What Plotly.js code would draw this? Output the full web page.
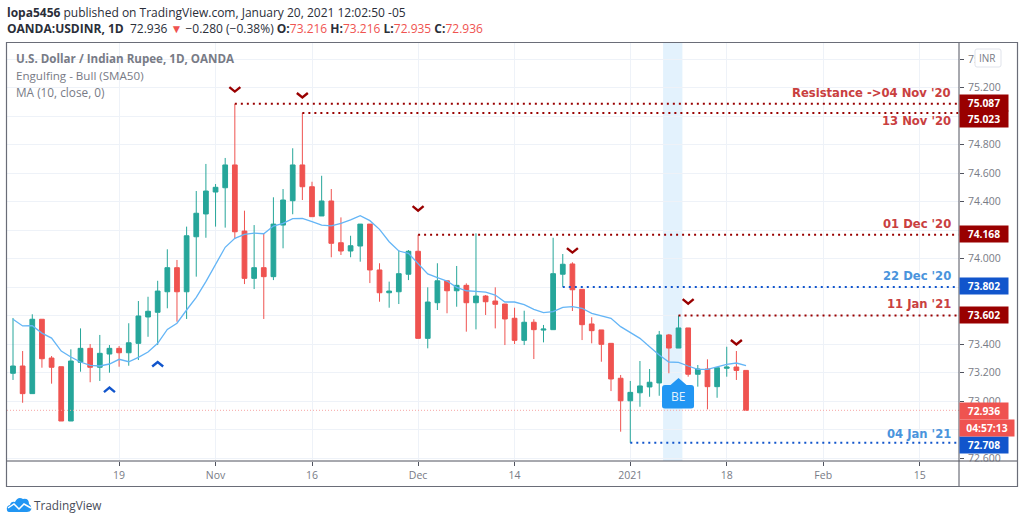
<!DOCTYPE html>
<html><head><meta charset="utf-8">
<script src="https://cdn.plot.ly/plotly-3.0.1.min.js"></script>
<style>html,body{margin:0;padding:0;background:#fff}#c{width:1024px;height:523px}</style></head>
<body><div id="c"></div>
<script>
// daily candles, one per trading day, indexed from 2 Oct 2020 (0) to 20 Jan 2021 (76)
const opens=[73.196,73.247,73.053,73.575,73.303,73.242,72.861,73.273,73.371,73.238,73.331,73.371,73.340,73.406,73.591,73.624,73.768,73.937,73.768,74.154,74.314,74.468,74.498,74.658,74.194,73.862,73.937,73.874,74.236,74.407,74.658,74.505,74.300,74.405,74.112,74.054,74.089,74.243,73.921,73.761,73.768,73.891,74.052,73.441,73.691,73.845,73.775,73.813,73.691,73.738,73.703,73.682,73.582,73.427,73.554,73.499,73.502,73.891,73.963,73.785,73.542,73.500,73.406,73.161,73.003,73.059,73.100,73.128,73.465,73.373,73.514,73.189,73.226,73.102,73.231,73.240,73.216];
const highs=[73.584,73.352,73.610,73.575,73.317,73.242,73.364,73.511,73.401,73.465,73.394,73.387,73.547,73.703,73.733,73.845,74.066,73.991,74.225,74.475,74.665,74.524,74.707,75.087,74.337,74.236,74.178,74.431,74.489,74.775,75.023,74.540,74.582,74.489,74.290,74.161,74.243,74.243,73.968,73.839,74.061,74.061,74.168,73.799,73.968,73.845,73.949,73.827,74.178,73.745,73.799,73.682,73.656,73.635,73.575,73.535,74.147,74.033,73.975,73.785,73.589,73.500,73.406,73.184,73.142,73.282,73.226,73.493,73.472,73.602,73.514,73.254,73.294,73.235,73.382,73.352,73.216];
const lows=[73.149,72.989,73.053,73.235,73.123,72.861,72.861,73.207,73.133,73.142,73.200,73.242,73.249,73.289,73.452,73.394,73.652,73.558,73.577,73.874,74.147,74.225,74.218,74.138,73.822,73.787,73.577,73.850,74.073,74.312,74.412,74.295,74.300,74.010,74.026,74.010,73.979,73.829,73.698,73.656,73.682,73.850,73.441,73.371,73.640,73.617,73.663,73.488,73.504,73.605,73.511,73.394,73.401,73.394,73.296,73.413,73.502,73.802,73.633,73.429,73.406,73.277,73.071,72.786,72.708,72.961,73.031,73.038,73.196,73.373,73.172,73.102,72.943,73.024,73.172,73.149,72.936];
const closes=[73.247,73.053,73.575,73.298,73.238,72.861,73.282,73.371,73.238,73.336,73.371,73.340,73.410,73.598,73.631,73.773,73.937,73.768,74.161,74.319,74.475,74.501,74.658,74.189,73.862,73.937,73.874,74.243,74.412,74.658,74.505,74.295,74.405,74.108,74.054,74.091,74.243,73.921,73.761,73.773,73.895,74.052,73.441,73.696,73.845,73.775,73.813,73.691,73.738,73.698,73.680,73.577,73.427,73.554,73.502,73.506,73.895,73.961,73.782,73.537,73.495,73.399,73.156,73.003,73.062,73.107,73.133,73.465,73.373,73.514,73.189,73.226,73.102,73.235,73.240,73.216,72.936];
const ma10=[73.575,73.528,73.530,73.478,73.443,73.352,73.310,73.275,73.252,73.247,73.261,73.294,73.277,73.308,73.345,73.406,73.504,73.547,73.640,73.729,73.839,73.956,74.080,74.143,74.171,74.180,74.175,74.229,74.248,74.281,74.283,74.260,74.236,74.231,74.248,74.272,74.302,74.267,74.206,74.119,74.054,74.038,73.968,73.893,73.867,73.843,73.799,73.775,73.771,73.766,73.745,73.696,73.696,73.677,73.645,73.621,73.628,73.659,73.663,73.652,73.617,73.600,73.582,73.523,73.481,73.441,73.382,73.324,73.275,73.273,73.247,73.224,73.224,73.242,73.259,73.268,73.249];
const xIndex=closes.map((_,i)=>i);
const tickIndex=[11,21,31,42,52,64,74,84,94];
const tickLabels=['19','Nov','16','Dec','14','2021','18','Feb','15'];
const priceTicks=[72.6,72.8,73.0,73.2,73.4,73.6,73.8,74.0,74.2,74.4,74.6,74.8,75.0,75.2,75.4];
const levelNames=["Resistance ->04 Nov '20","13 Nov '20","01 Dec '20","22 Dec '20","11 Jan '21","04 Jan '21"];
const levelPrices=[75.087,75.023,74.168,73.802,73.602,72.708];
const levelStart=[23,30,42,57,69,64];
const sellIdx=[23,30,42,58,70,75];
const sellTip=[75.166,75.124,74.330,74.036,73.678,73.391];
const buyIdx=[10,15];
const buyTip=[73.102,73.282];
const lastPrice=72.936;

const W=952,H=419,L=7,T=42;
const px=x=>(x-L)/W, py=y=>1-(y-T)/H;
const DARK='#990000',BLUE='#1155cc',RED='#ef5350',GREEN='#26a69a',AX='#50535e',TXT='#787b86';
const FONT='"Open Sans", sans-serif';
const LBL='"DejaVu Sans", sans-serif';

const shapes=[
 {type:'rect',layer:'below',xref:'x',yref:'paper',x0:67.4,x1:69.4,y0:0,y1:1,fillcolor:'#e3f2fd',line:{width:0}},
 {type:'line',xref:'paper',yref:'y',x0:px(7),x1:1,y0:lastPrice,y1:lastPrice,line:{color:'#f7a5a3',width:1,dash:'1px,2px'}},
];
levelPrices.forEach((p,i)=>{
 const c=(i===3||i===5)?BLUE:DARK;
 shapes.push({type:'line',xref:'x',yref:'y',x0:levelStart[i],x1:98,y0:p,y1:p,line:{color:c,width:2,dash:'2px,4px'}});
});
// chevrons, anchored on the axes
sellIdx.forEach((k,i)=>shapes.push({type:'path',xref:'x',yref:'y',xsizemode:'pixel',ysizemode:'pixel',xanchor:k,yanchor:sellTip[i],
 path:'M-5.5,5.5 L0,1 L5.5,5.5',line:{color:DARK,width:2.4}}));
buyIdx.forEach((k,i)=>shapes.push({type:'path',xref:'x',yref:'y',xsizemode:'pixel',ysizemode:'pixel',xanchor:k,yanchor:buyTip[i],
 path:'M-5.5,-5.5 L0,-1 L5.5,-5.5',line:{color:BLUE,width:2.4}}));
// BE flag
shapes.push({type:'path',xref:'x',yref:'y',xsizemode:'pixel',ysizemode:'pixel',xanchor:69,yanchor:73.03,
 path:'M-16.5,-9 L-16.5,9 Q-16.5,12 -13.5,12 L-8,12 L0,19 L8,12 L12.5,12 Q15.5,12 15.5,9 L15.5,-9 Q15.5,-11.5 12.5,-11.5 L-13.5,-11.5 Q-16.5,-11.5 -16.5,-9 Z',
 fillcolor:'#2196f3',line:{width:0}});
// cover strip under the price scale, frame, axis lines
shapes.push({type:'rect',xref:'paper',yref:'paper',x0:px(960),x1:px(1017),y0:py(487),y1:py(461.5),fillcolor:'#fff',line:{width:0}});
shapes.push({type:'line',xref:'paper',yref:'paper',x0:px(7),x1:px(1017),y0:py(461),y1:py(461),line:{color:AX,width:1}});
shapes.push({type:'line',xref:'paper',yref:'paper',x0:px(959),x1:px(959),y0:py(42),y1:py(487),line:{color:AX,width:1}});
shapes.push({type:'rect',xref:'paper',yref:'paper',x0:px(6.5),x1:px(1017.5),y0:py(486.5),y1:py(42.5),line:{color:'#6a6d78',width:1.2},fillcolor:'rgba(0,0,0,0)'});
// INR badge
shapes.push({type:'path',xref:'paper',yref:'paper',xsizemode:'pixel',ysizemode:'pixel',xanchor:px(975),yanchor:py(67),
 path:'M0,2 L0,16 Q0,18 2,18 L24,18 Q26,18 26,16 L26,2 Q26,0 24,0 L2,0 Q0,0 0,2 Z',fillcolor:'#fff',line:{color:'#e0e3eb',width:1}});
// logo
shapes.push({type:'path',xref:'paper',yref:'paper',xsizemode:'pixel',ysizemode:'pixel',xanchor:px(7),yanchor:py(512),
 path:'M0,2 Q-1,6 3,7 Q4,11 8,10 Q11,16 16,13 Q22,14 22,8 Q25,6 24,2 Q23,0 20,0 L3,0 Q0,0 0,2 Z',fillcolor:'#2196f3',line:{width:0}});
shapes.push({type:'path',xref:'paper',yref:'paper',xsizemode:'pixel',ysizemode:'pixel',xanchor:px(7),yanchor:py(512),
 path:'M1,4 L7,8 L12,3 L17,8 L24,4',line:{color:'#fff',width:1.5}});

const ann=[];
function txt(x,y,text,opt={}){ann.push(Object.assign({xref:'paper',yref:'paper',x:px(x),y:py(y),text,showarrow:false,xanchor:'left',yanchor:'middle',align:'left',borderpad:0,
 font:{family:FONT,size:12,color:'#131722'}},opt));}
const r=s=>`<span style="color:${RED}">${s}</span>`;
txt(6,12,'<b>lopa5456</b> published on TradingView.com, January 20, 2021 12:02:50 -05',{font:{family:FONT,size:12,color:'#2a2e39'}});
txt(6,28.5,`<b>OANDA:USDINR, 1D</b>  72.936 ${r('▼')} −0.280 (−0.38%) <b>O:</b>${r('73.216')} <b>H:</b>${r('73.216')} <b>L:</b>${r('72.935')} <b>C:</b>${r('72.936')}`,{font:{family:FONT,size:12,color:'#2a2e39'}});
txt(15,59,'<b>U.S. Dollar / Indian Rupee, 1D, OANDA</b>',{font:{family:FONT,size:11.6,color:TXT}});
txt(15,75.5,'Engulfing - Bull (SMA50)',{font:{family:FONT,size:11.6,color:TXT}});
txt(15,92,'MA (10, close, 0)',{font:{family:FONT,size:11.8,color:TXT}});
txt(988,58,'INR',{xanchor:'center',font:{family:FONT,size:10,color:TXT}});
txt(33,505.5,'TradingView',{font:{family:FONT,size:11.8,color:'#4a4e5a'}});
// level captions
const capY=[92.5,121,224,276,304,434];
const capCol=['#c9403f','#c9403f','#c9403f','#4a94dc','#c9403f','#4a94dc'];
levelNames.forEach((n,i)=>txt(952,capY[i],`<b>${n}</b>`,{xanchor:'right',align:'right',font:{family:LBL,size:11.6,color:capCol[i]}}));
// price tags
function tag(y,text,bg,w=48){txt(959,y,`<b>${text}</b>`,{width:w,height:16,align:'center',bgcolor:bg,font:{family:FONT,size:10.3,color:'#fff'}});}
tag(102.7,levelPrices[0].toFixed(3),DARK);
tag(119.4,levelPrices[1].toFixed(3),DARK);
tag(234.2,levelPrices[2].toFixed(3),DARK);
tag(286,levelPrices[3].toFixed(3),BLUE);
tag(314.5,levelPrices[4].toFixed(3),DARK);
tag(444.7,levelPrices[5].toFixed(3),BLUE);
tag(410.8,lastPrice.toFixed(3),RED);
tag(428.3,'04:57:13',RED,54);
ann.push({xref:'x',yref:'y',x:69,y:73.03,text:'BE',showarrow:false,xanchor:'center',yanchor:'middle',xshift:-0.5,font:{family:FONT,size:12,color:'#e3f2fd'}});

const data=[
 {type:'candlestick',x:xIndex,open:opens,high:highs,low:lows,close:closes,hoverinfo:'skip',
  increasing:{line:{color:GREEN,width:1},fillcolor:GREEN},decreasing:{line:{color:RED,width:1},fillcolor:RED},whiskerwidth:0},
 {type:'scatter',mode:'lines',x:xIndex,y:ma10,line:{color:'#64b5f6',width:1.3,shape:'linear'},hoverinfo:'skip'}
];
const grid='#eef2f8';
const layout={width:1024,height:523,margin:{l:L,t:T,r:1024-L-W,b:523-T-H,pad:0},paper_bgcolor:'#fff',plot_bgcolor:'#fff',showlegend:false,
 xaxis:{type:'linear',range:[-0.622,98.08],rangeslider:{visible:false},tickmode:'array',tickvals:tickIndex,ticktext:tickLabels,showgrid:true,gridcolor:grid,gridwidth:1,zeroline:false,
  ticks:'outside',ticklen:4,tickcolor:AX,tickfont:{family:FONT,size:10.5,color:TXT},showline:false,fixedrange:true},
 yaxis:{side:'right',range:[72.5803,75.5208],tickmode:'array',tickvals:priceTicks,ticktext:priceTicks.map(v=>v.toFixed(3)),showgrid:true,gridcolor:grid,gridwidth:1,zeroline:false,
  ticks:'outside',ticklen:4,tickcolor:AX,ticklabelstandoff:2,tickfont:{family:FONT,size:10.5,color:TXT},showline:false,fixedrange:true},
 shapes,annotations:ann};
Plotly.newPlot('c',data,layout,{displayModeBar:false,staticPlot:true});
</script></body></html>
